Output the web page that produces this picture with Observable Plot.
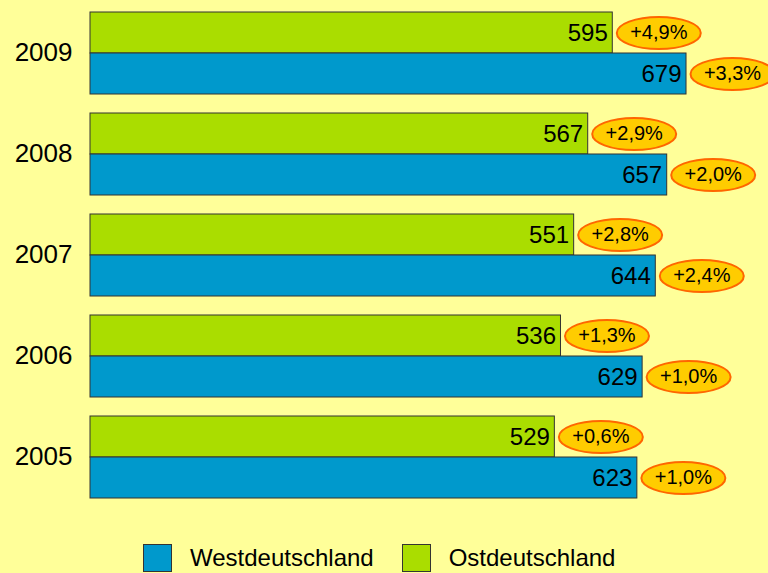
<!DOCTYPE html>
<html>
<head>
<meta charset="utf-8">
<script src="https://cdn.jsdelivr.net/npm/d3@7"></script>
<script src="https://cdn.jsdelivr.net/npm/@observablehq/plot@0.6"></script>
<style>
  html, body { margin: 0; padding: 0; background: #FFFF99; width: 768px; height: 573px; overflow: hidden; }
  body { font-family: "Liberation Sans", Arial, sans-serif; }
  #legend { display: flex; align-items: center; height: 53px; padding-left: 143px; box-sizing: border-box; padding-top: 23px; }
  .sw { width: 29px; height: 28px; border: 1px solid #333; box-sizing: border-box; margin-right: 18px; }
  .lab { font-size: 24px; color: #000; margin-right: 28px; }
</style>
</head>
<body>
<div id="chart"></div>
<div id="legend"></div>
<script>
const years = [2005, 2006, 2007, 2008, 2009];
const west = [623, 629, 644, 657, 679];
const ost = [529, 536, 551, 567, 595];
const westChange = ["+1,0%", "+1,0%", "+2,4%", "+2,0%", "+3,3%"];
const ostChange = ["+0,6%", "+1,3%", "+2,8%", "+2,9%", "+4,9%"];
const seriesNames = ["Westdeutschland", "Ostdeutschland"];
const colors = {Westdeutschland: "#0099CC", Ostdeutschland: "#AADD00"};

const data = [];
years.forEach((y, i) => {
  data.push({year: y, series: "Ostdeutschland", value: ost[i], change: ostChange[i]});
  data.push({year: y, series: "Westdeutschland", value: west[i], change: westChange[i]});
});

const ellipse = {
  draw(ctx) {
    const rx = 42, ry = 16, k = 0.5523;
    ctx.moveTo(rx, 0);
    ctx.bezierCurveTo(rx, ry * k, rx * k, ry, 0, ry);
    ctx.bezierCurveTo(-rx * k, ry, -rx, ry * k, -rx, 0);
    ctx.bezierCurveTo(-rx, -ry * k, -rx * k, -ry, 0, -ry);
    ctx.bezierCurveTo(rx * k, -ry, rx, -ry * k, rx, 0);
    ctx.closePath();
  }
};

const chart = Plot.plot({
  width: 768,
  height: 520,
  marginLeft: 90,
  marginRight: 0,
  marginTop: 10,
  marginBottom: 21,
  style: {background: "transparent", fontFamily: "'Liberation Sans', Arial, sans-serif", fontSize: "26px", color: "#000", overflow: "visible"},
  x: {domain: [0, 772.4], axis: null},
  y: {domain: ["Ostdeutschland", "Westdeutschland"], axis: null, padding: 0},
  fy: {domain: [...years].reverse(), padding: 0.178, label: null, tickSize: 0, tickPadding: 18, axis: "left", tickFormat: d => String(d)},
  marks: [
    Plot.barX(data, {fy: "year", y: "series", x: "value", fill: d => colors[d.series], stroke: "#333", strokeWidth: 1}),
    Plot.text(data, {fy: "year", y: "series", x: "value", text: d => String(d.value), textAnchor: "end", dx: -5, fontSize: 24, fill: "#000"}),
    Plot.dot(data, {fy: "year", y: "series", x: "value", dx: 46, r: 10, symbol: ellipse, fill: "#FFCC00", stroke: "#FF6600", strokeWidth: 2}),
    Plot.text(data, {fy: "year", y: "series", x: "value", text: "change", dx: 46, fontSize: 20, fill: "#000"})
  ]
});
document.getElementById("chart").appendChild(chart);

const legend = document.getElementById("legend");
seriesNames.forEach(name => {
  const sw = document.createElement("div");
  sw.className = "sw";
  sw.style.background = colors[name];
  legend.appendChild(sw);
  const lab = document.createElement("span");
  lab.className = "lab";
  lab.textContent = name;
  legend.appendChild(lab);
});
</script>
</body>
</html>
